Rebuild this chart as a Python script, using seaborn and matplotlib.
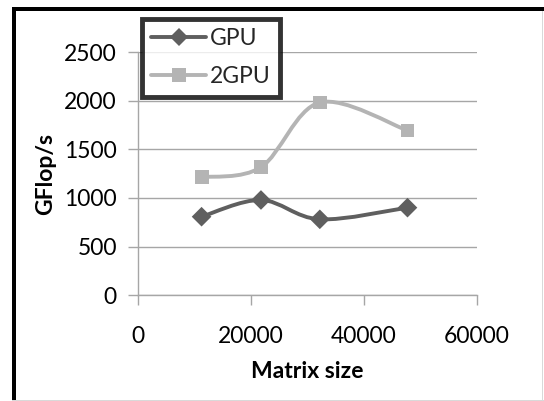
import numpy as np
import pandas as pd
import matplotlib
matplotlib.use("Agg")
import matplotlib.pyplot as plt
import seaborn as sns
from matplotlib.path import Path
from matplotlib.patches import PathPatch, Rectangle
from matplotlib.lines import Line2D

# Data
gpu_x = [11300, 21800, 32200, 47700]
gpu_y = [807, 979, 780, 900]
gpu2_x = [11300, 21800, 32200, 47700]
gpu2_y = [1213, 1316, 1982, 1694]
series_names = ["GPU", "2GPU"]
x_ticks = [0, 20000, 40000, 60000]
y_ticks = [0, 500, 1000, 1500, 2000, 2500]

sns.set_theme(style="white")
plt.rcParams["font.family"] = ["Lato", "DejaVu Sans"]

C_GPU = "#5f5f5f"
C_2GPU = "#b4b4b4"
FS = 16.5

fig = plt.figure(figsize=(5.44, 4.01), dpi=100)
ax = fig.add_axes([0.253, 0.264, 0.624, 0.606])

def smooth_path(xs, ys):
    pts = list(zip(xs, ys))
    n = len(pts)
    verts = [pts[0]]
    codes = [Path.MOVETO]
    for i in range(n - 1):
        p0 = pts[i - 1] if i > 0 else pts[i]
        p1 = pts[i]
        p2 = pts[i + 1]
        p3 = pts[i + 2] if i + 2 < n else pts[i + 1]
        c1 = (p1[0] + (p2[0] - p0[0]) / 6, p1[1] + (p2[1] - p0[1]) / 6)
        c2 = (p2[0] - (p3[0] - p1[0]) / 6, p2[1] - (p3[1] - p1[1]) / 6)
        verts += [c1, c2, p2]
        codes += [Path.CURVE4] * 3
    return Path(verts, codes)

for xs, ys, c in [(gpu_x, gpu_y, C_GPU), (gpu2_x, gpu2_y, C_2GPU)]:
    ax.add_patch(PathPatch(smooth_path(xs, ys), facecolor="none", edgecolor=c,
                           lw=2.8, zorder=3, capstyle="round", joinstyle="round"))

df = pd.DataFrame({
    "x": gpu_x + gpu2_x,
    "y": gpu_y + gpu2_y,
    "s": [series_names[0]] * len(gpu_x) + [series_names[1]] * len(gpu2_x),
})
sns.scatterplot(data=df, x="x", y="y", hue="s", style="s",
                markers={"GPU": "D", "2GPU": "s"},
                palette={"GPU": C_GPU, "2GPU": C_2GPU},
                s=100, linewidth=0, ax=ax, zorder=4, legend=False)

ax.set_xlim(0, 60000)
ax.set_ylim(0, 2500)
ax.set_xticks(x_ticks)
ax.set_yticks(y_ticks)
ax.set_xticklabels([str(v) for v in x_ticks])
ax.set_yticklabels([str(v) for v in y_ticks])
ax.grid(axis="y", color="#a6a6a6", lw=1)
ax.grid(axis="x", visible=False)
ax.set_axisbelow(True)
for s in ["top", "right"]:
    ax.spines[s].set_visible(False)
for s in ["left", "bottom"]:
    ax.spines[s].set_color("#a6a6a6")
    ax.spines[s].set_linewidth(1)
ax.tick_params(axis="both", which="major", length=7, width=1, color="#a6a6a6",
               labelsize=FS, labelcolor="black", direction="out",
               bottom=True, left=True)
ax.tick_params(axis="x", pad=15)
ax.tick_params(axis="y", pad=8)
ax.set_xlabel("Matrix size", fontsize=FS, fontweight="bold", color="black", labelpad=10)
ax.set_ylabel("GFlop/s", fontsize=FS, fontweight="bold", color="black", labelpad=6)

handles = [
    Line2D([0], [0], color=C_GPU, lw=2.8, marker="D", markersize=9, markeredgewidth=0),
    Line2D([0], [0], color=C_2GPU, lw=2.8, marker="s", markersize=10.5, markeredgewidth=0),
]
leg = fig.legend(handles, series_names, loc="upper left",
                 bbox_to_anchor=(142 / 544, 1 - 19 / 401),
                 frameon=True, fancybox=False, fontsize=FS,
                 handlelength=2.4, handletextpad=0.15, borderpad=0.4,
                 labelspacing=0.75, borderaxespad=0)
leg.get_frame().set_edgecolor("black")
leg.get_frame().set_linewidth(3.5)

# outer chart border: thick black on left and top, thin grey right/bottom
fig.add_artist(Rectangle((12 / 544, 0), 4 / 544, 1 - 7 / 401, transform=fig.transFigure,
                         color="black", lw=0))
fig.add_artist(Rectangle((12 / 544, 1 - 11 / 401), 1 - 12 / 544, 4 / 401, transform=fig.transFigure,
                         color="black", lw=0))
fig.add_artist(Rectangle((541.5 / 544, 0), 1.5 / 544, 1 - 11 / 401, transform=fig.transFigure,
                         color="#d9d9d9", lw=0))
fig.add_artist(Rectangle((12 / 544, 0), 1 - 12 / 544, 1.5 / 401, transform=fig.transFigure,
                         color="#d9d9d9", lw=0))

fig.savefig("out.png", dpi=100)
